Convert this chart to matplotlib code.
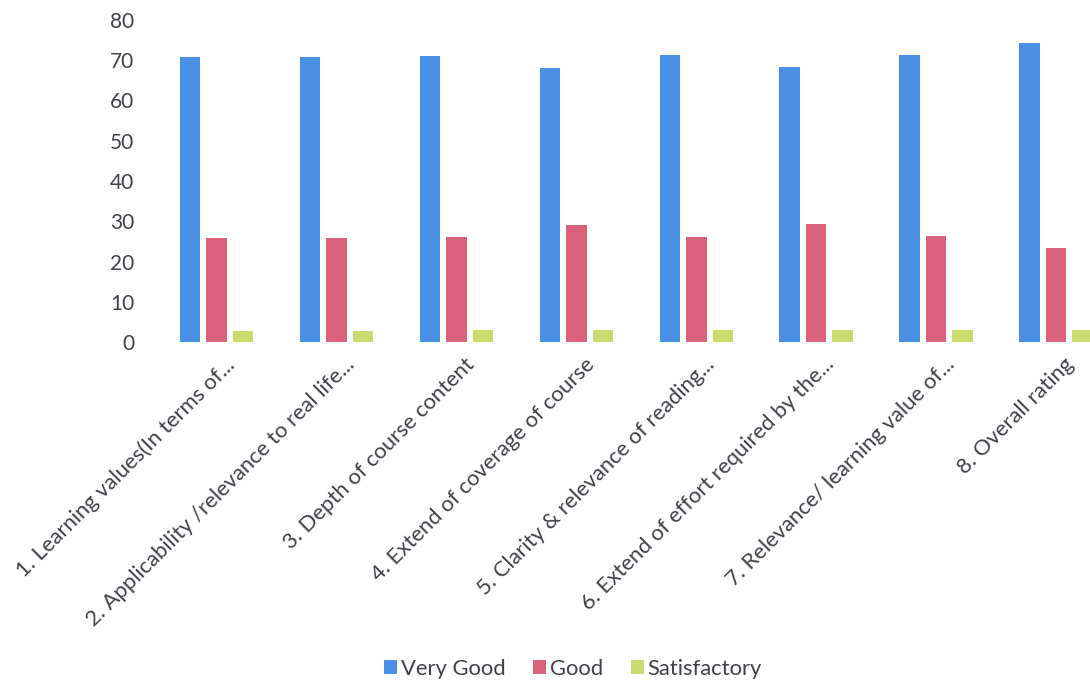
import matplotlib
matplotlib.use("Agg")
import matplotlib.pyplot as plt
import matplotlib.transforms as mtransforms
import numpy as np

plt.rcParams['font.family'] = ['Lato', 'DejaVu Sans']

categories = [
    "1. Learning values(In terms of...",
    "2. Applicability /relevance to real life...",
    "3. Depth of course content",
    "4. Extend of coverage of course",
    "5. Clarity & relevance of reading...",
    "6. Extend of effort required by the...",
    "7. Relevance/ learning value of...",
    "8. Overall rating",
]
very_good = [70.8, 70.9, 71.0, 68.0, 71.2, 68.3, 71.4, 74.2]
good = [25.8, 25.9, 26.0, 29.0, 26.1, 29.3, 26.3, 23.3]
satisfactory = [2.8, 2.8, 3.0, 3.0, 3.0, 3.0, 3.1, 3.0]
series_names = ["Very Good", "Good", "Satisfactory"]
yticks = [0, 10, 20, 30, 40, 50, 60, 70, 80]

colors = ["#4A90E4", "#D9617A", "#C8DC70"]
text_color = "#404048"
fs = 15.8

W, H = 1090, 684
fig = plt.figure(figsize=(W / 100, H / 100), dpi=100)
left_px, right_px = 156.7, 1090
top_px, bottom_px = 20, 342
ax = fig.add_axes([left_px / W, 1 - bottom_px / H,
                   (right_px - left_px) / W, (bottom_px - top_px) / H])

x = np.arange(len(categories))
bw = 0.171
step = 0.221
for i, (vals, name, c) in enumerate(zip([very_good, good, satisfactory], series_names, colors)):
    ax.bar(x + (i - 1) * step, vals, width=bw, color=c, label=name, zorder=2)

ax.set_ylim(0, 80)
ax.set_xlim(-0.5, 7 + (1090 - 1056) / 120)
ax.set_yticks(yticks)
ax.set_yticklabels([str(v) for v in yticks], fontsize=15, color=text_color)
ax.tick_params(axis='y', length=0, pad=16)
ax.tick_params(axis='x', length=0, pad=0)

ax.set_xticks(x)
ax.set_xticklabels(categories, rotation=45, ha='right', va='top',
                   rotation_mode='anchor', fontsize=fs, color=text_color)
offset = mtransforms.ScaledTranslation(8 / 100, -12 / 100, fig.dpi_scale_trans)
for lbl in ax.get_xticklabels():
    lbl.set_transform(lbl.get_transform() + offset)

for s in ax.spines.values():
    s.set_visible(False)

leg = fig.legend(loc='center', bbox_to_anchor=(573 / W, 1 - 669 / H), ncol=3,
                 frameon=False, fontsize=fs, handlelength=0.6, handleheight=0.6,
                 handletextpad=0.18, columnspacing=1.25, labelcolor=text_color)

fig.savefig("out.png", dpi=100)
